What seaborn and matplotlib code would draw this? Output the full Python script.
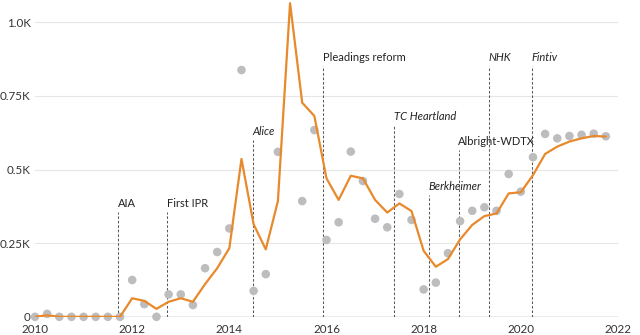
import numpy as np
import pandas as pd
import matplotlib
matplotlib.use("Agg")
import matplotlib.pyplot as plt
import seaborn as sns

# Quarterly observations, 2010 Q1 through 2021 Q4 (values in thousands)
quarters = [f"{y}Q{q}" for y in range(2010, 2022) for q in range(1, 5)]

quarterly_counts = [
    0.0, 0.01, 0.0, 0.0,            # 2010
    0.0, 0.0, 0.0, 0.0,             # 2011
    0.125, 0.043, 0.0, 0.076,       # 2012
    0.076, 0.04, 0.165, 0.22,       # 2013
    0.30, 0.838, 0.088, 0.145,      # 2014
    0.56, np.nan, 0.393, 0.634,     # 2015
    0.261, 0.321, 0.561, 0.461,     # 2016
    0.333, 0.304, 0.417, 0.329,     # 2017
    0.093, 0.116, 0.216, 0.325,     # 2018
    0.36, 0.372, 0.36, 0.485,       # 2019
    0.425, 0.542, 0.621, 0.606,     # 2020
    0.614, 0.618, 0.622, 0.613,     # 2021
]

trend = [
    0.0, 0.005, 0.0, 0.0,
    0.0, 0.0, 0.0, 0.0,
    0.063, 0.054, 0.027, 0.051,
    0.063, 0.051, 0.111, 0.165,
    0.233, 0.536, 0.314, 0.229,
    0.393, 1.065, 0.727, 0.682,
    0.470, 0.397, 0.479, 0.470,
    0.397, 0.354, 0.385, 0.359,
    0.224, 0.170, 0.196, 0.263,
    0.312, 0.342, 0.351, 0.419,
    0.423, 0.481, 0.553, 0.578,
    0.595, 0.606, 0.614, 0.612,
]

# Milestones: name, date (decimal year), height of marker line, italic?
event_names = ["AIA", "First IPR", "Alice", "Pleadings reform", "TC Heartland",
               "Berkheimer", "Albright-WDTX", "NHK", "Fintiv"]
event_dates = [2011.71, 2012.72, 2014.48, 2015.93, 2017.39,
               2018.11, 2018.72, 2019.35, 2020.23]
event_heights = [0.355, 0.355, 0.60, 0.85, 0.65, 0.413, 0.566, 0.85, 0.85]
event_italic = [False, False, True, False, True, True, False, True, True]

y_ticks = [0, 0.25, 0.5, 0.75, 1.0]
y_tick_labels = ["0", "0.25K", "0.5K", "0.75K", "1.0K"]
x_ticks = [2010, 2012, 2014, 2016, 2018, 2020, 2022]

def quarter_to_year(q):
    return int(q[:4]) + (int(q[-1]) - 1) / 4

df = pd.DataFrame({
    "quarter": quarters,
    "t": [quarter_to_year(q) for q in quarters],
    "count": quarterly_counts,
    "trend": trend,
})

sns.set_theme(style="white")
plt.rcParams["font.family"] = ["Lato", "DejaVu Sans"]

fig = plt.figure(figsize=(6.4, 3.35), dpi=100)
ax = fig.add_axes([0.0547, 0.0543, 0.9109, 0.9406])

for yt in y_ticks[1:]:
    ax.axhline(yt, color="#e6e6e6", lw=0.8, zorder=0)
ax.axhline(0, color="#9a9a9a", lw=1.0, zorder=1)

for name, date, h, it in zip(event_names, event_dates, event_heights, event_italic):
    ax.plot([date, date], [0, h], color="#5a5a5a", lw=0.75, ls=(0, (2.5, 1.8)), zorder=2)
    ax.text(date - 0.01, h + 0.012, name, ha="left", va="bottom", fontsize=8,
            style="italic" if it else "normal", color="#222222")

sns.scatterplot(data=df, x="t", y="count", ax=ax, s=38, color="#bdbdc0",
                edgecolor="none", zorder=3, clip_on=False)
sns.lineplot(data=df, x="t", y="trend", ax=ax, color="#e8892b", lw=1.6, zorder=4)

ax.set_xlim(2010, 2022)
ax.set_ylim(0, 1.07)
ax.set_xticks(x_ticks)
ax.set_xticklabels([str(x) for x in x_ticks])
ax.set_yticks(y_ticks)
ax.set_yticklabels(y_tick_labels)
ax.tick_params(axis="both", length=0, labelsize=8.4, colors="#333333")
ax.tick_params(axis="x", pad=5)
ax.tick_params(axis="y", pad=3)
ax.set_xlabel("")
ax.set_ylabel("")
for s in ax.spines.values():
    s.set_visible(False)
ax.grid(False)

fig.savefig("out.png", dpi=100)
